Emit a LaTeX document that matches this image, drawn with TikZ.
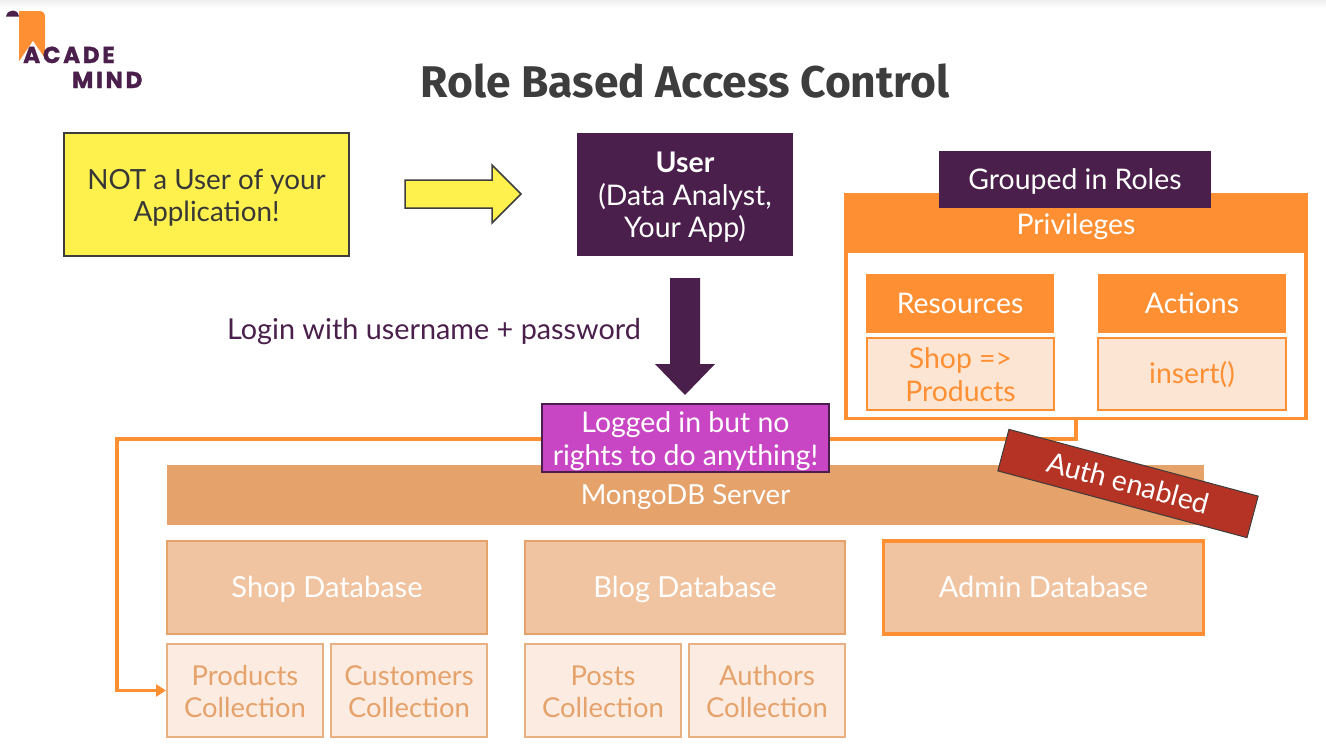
\documentclass[tikz,border=0pt]{standalone}
\usepackage{fontspec}
\setmainfont{Lato}
\newfontfamily\titlefont{Fira Sans}
\newfontfamily\logofont[LetterSpace=12,BoldFeatures={FakeBold=1.5}]{Poppins}
\usetikzlibrary{arrows.meta}
\definecolor{plum}{HTML}{4A1F4B}
\definecolor{orng}{HTML}{FF8F33}
\definecolor{yel}{HTML}{FFF14D}
\definecolor{magn}{HTML}{C846C4}
\definecolor{srv}{HTML}{E5A26B}
\definecolor{db}{HTML}{F0C4A1}
\definecolor{coll}{HTML}{FBEBE0}
\definecolor{res}{HTML}{FDE5D3}
\definecolor{authred}{HTML}{B43324}
\definecolor{ink}{HTML}{3D3D3D}
\newcommand{\firstln}{\rule{0pt}{28.5pt}}
\tikzset{
 box/.style={inner sep=0pt,align=center,font=\fontsize{28.4}{32.5}\selectfont,
   execute at begin node={\rule{0pt}{26pt}},execute at end node={\rule[-7pt]{0pt}{0pt}}},
 lowered/.style={execute at begin node={\rule{0pt}{30pt}}},
 yellowbox/.style={box,draw=ink,line width=1.5pt,fill=yel,text=ink!90!black,font=\fontsize{27.8}{32.5}\selectfont},
 plumbox/.style={box,fill=plum,text=white},
 orangebox/.style={box,fill=orng,text=white},
 resbox/.style={box,fill=res,draw=orng,line width=2pt,text=orng},
 srvbox/.style={box,fill=srv,text=white,font=\fontsize{27.6}{32.5}\selectfont},
 dbbox/.style={box,fill=db,draw=srv,line width=2pt,text=white,font=\fontsize{29}{32.5}\selectfont},
 collbox/.style={box,fill=coll,draw=srv!85!white,line width=2pt,text=srv,font=\fontsize{27.4}{32.5}\selectfont},
 link/.style={draw=orng,line width=3.6pt},
}
\begin{document}
\begin{tikzpicture}[x=1pt,y=-1pt]
\useasboundingbox (0,0) rectangle (1326,750);
\shade[top color=black!6,bottom color=white] (0,0) rectangle (1326,8);
% logo
\fill[orng] (19,11) -- (39,11) .. controls (43,11) and (45,13) .. (45,17) -- (45,62) -- (19,62) -- cycle;
\fill[plum] (6,16.5) .. controls (7,12) and (10,10.5) .. (13,10.5) .. controls (16,10.5) and (18,12) .. (19,16.5) -- cycle;
\fill[white] (33,41) -- (50,66) -- (16,66) -- cycle;
\node[anchor=base west,inner sep=0pt,text=plum,font=\logofont\bfseries\fontsize{23}{23}\selectfont] (logoa) at (23,63) {ACADE};
\node[anchor=base west,inner sep=0pt,text=plum,font=\logofont\bfseries\fontsize{23}{23}\selectfont] (logob) at (72,88) {MIND};
% title
\node[inner sep=0pt,text=ink,font=\titlefont\bfseries\fontsize{44.4}{44}\selectfont] (title) at (685,81) {Role Based Access Control};
% top row
\node[yellowbox,minimum width=285pt,minimum height=123pt] (note) at (206.5,194.5) {\firstln NOT a User of your\\Application!};
\draw[draw=ink,line width=1.5pt,fill=yel] (405,180) -- (492,180) -- (492,165) -- (521,194) -- (492,223) -- (492,208) -- (405,208) -- cycle;
\node[plumbox,minimum width=216pt,minimum height=123pt] (user) at (685,194.5) {\firstln\textbf{User}\\(Data Analyst,\\Your App)};
\fill[plum] (670,278) -- (700,278) -- (700,364) -- (715,364) -- (685,395) -- (655,364) -- (670,364) -- cycle;
\node[inner sep=0pt,text=plum,font=\fontsize{28.8}{33}\selectfont] (login) at (434,330) {\rule{0pt}{26pt}Login with username + password\rule[-7pt]{0pt}{0pt}};
% privileges
\node[draw=orng,line width=3.6pt,fill=white,minimum width=460.4pt,minimum height=223.5pt,inner sep=0pt] (priv) at (1076,306.75) {};
\node[orangebox,lowered,minimum width=464pt,minimum height=60pt] (privh) at (1076,223) {Privileges};
\node[plumbox,minimum width=272pt,minimum height=57pt] (roles) at (1075,179.5) {Grouped in Roles};
\node[orangebox,minimum width=188pt,minimum height=59pt] (resh) at (960,303.5) {Resources};
\node[orangebox,minimum width=188pt,minimum height=59pt] (acth) at (1192,303.5) {Actions};
\node[resbox,minimum width=187pt,minimum height=72pt] (shop) at (960.5,374) {\firstln Shop =>\\Products};
\node[resbox,minimum width=188pt,minimum height=72pt] (ins) at (1192,374) {insert()};
% connector
\coordinate (c1) at (1076,439);
\coordinate (c2) at (117,439);
\node[collbox,minimum width=156pt,minimum height=93pt] (c-prod) at (245,690.5) {\firstln Products\\Collection};
\draw[link,-{Triangle[length=10pt,width=12pt]}] (priv.south) -- (c1) -- (c2) -- (c2 |- c-prod.west) -- (c-prod.west);
% server
\node[srvbox,minimum width=1037pt,minimum height=60pt] (srv) at (685.5,495) {MongoDB Server};
\node[box,fill=magn,draw=plum,line width=1.5pt,text=white,minimum width=287pt,minimum height=68pt] (logged) at (685.5,438) {\firstln Logged in but no\\rights to do anything!};
\node[box,fill=authred,draw=ink,line width=1pt,text=white,minimum width=258pt,minimum height=43pt,rotate=-15] (auth) at (1128,483.5) {Auth enabled};
% databases
\node[dbbox,minimum width=320pt,minimum height=93pt] (shopdb) at (327,587.5) {Shop Database};
\node[dbbox,minimum width=320pt,minimum height=93pt] (blogdb) at (685,587.5) {Blog Database};
\node[dbbox,draw=orng,line width=3.6pt,minimum width=320pt,minimum height=93pt] (admdb) at (1043.5,587.5) {Admin Database};
\node[collbox,minimum width=156pt,minimum height=93pt] (c-cust) at (409,690.5) {\firstln Customers\\Collection};
\node[collbox,minimum width=156pt,minimum height=93pt] (c-post) at (603,690.5) {\firstln Posts\\Collection};
\node[collbox,minimum width=156pt,minimum height=93pt] (c-auth) at (767,690.5) {\firstln Authors\\Collection};
\end{tikzpicture}
\end{document}
